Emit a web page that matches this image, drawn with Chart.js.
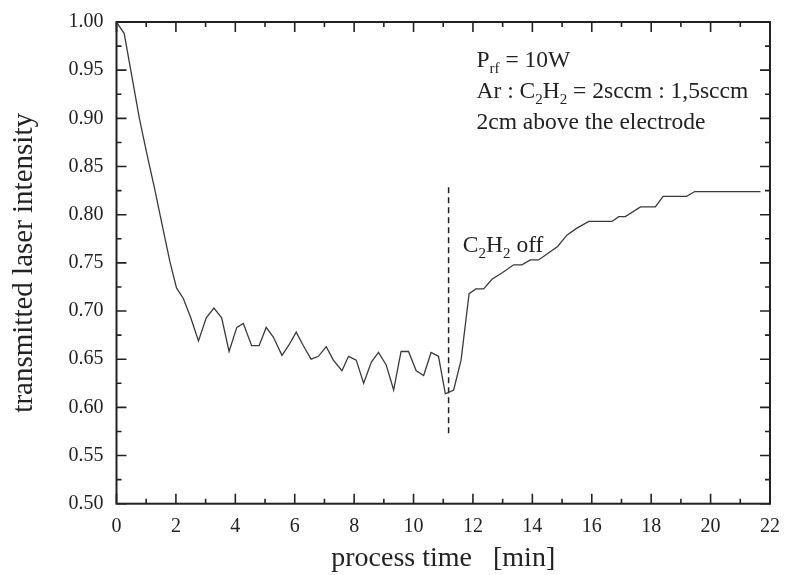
<!DOCTYPE html>
<html>
<head>
<meta charset="utf-8">
<script src="https://cdn.jsdelivr.net/npm/chart.js@4.4.1/dist/chart.umd.min.js"></script>
<style>
  body { margin: 0; background: #fff; }
  #wrap { width: 786px; height: 575px; }
</style>
</head>
<body>
<div id="wrap"><canvas id="chart"></canvas></div>
<script>
// measured curve: process time [min] / transmitted laser intensity
const timeMin = [0, 0.26, 0.77, 1.03, 1.29, 1.54, 1.80, 2.02, 2.25, 2.50, 2.76, 3.02, 3.28, 3.54, 3.79,
  4.05, 4.27, 4.55, 4.80, 5.04, 5.28, 5.57, 5.79, 6.05, 6.29, 6.55, 6.80, 7.06, 7.30, 7.59, 7.81,
  8.07, 8.32, 8.58, 8.82, 9.08, 9.33, 9.58, 9.83, 10.09, 10.34, 10.59, 10.84, 11.07, 11.35, 11.60,
  11.87, 12.10, 12.36, 12.64, 13.00, 13.37, 13.65, 13.93, 14.21, 14.53, 14.85, 15.17, 15.50, 15.90,
  16.68, 16.91, 17.13, 17.64, 18.14, 18.40, 19.19, 19.47, 21.68];
const intensity = [1.000, 0.988, 0.900, 0.862, 0.826, 0.789, 0.751, 0.724, 0.713, 0.693, 0.669, 0.693, 0.703, 0.693, 0.658,
  0.683, 0.687, 0.664, 0.664, 0.683, 0.673, 0.654, 0.664, 0.678, 0.664, 0.650, 0.653, 0.663, 0.649, 0.638, 0.653,
  0.649, 0.625, 0.647, 0.657, 0.644, 0.618, 0.658, 0.658, 0.638, 0.633, 0.657, 0.653, 0.614, 0.618, 0.649,
  0.718, 0.723, 0.723, 0.733, 0.740, 0.748, 0.748, 0.753, 0.753, 0.760, 0.767, 0.779, 0.786, 0.793,
  0.793, 0.798, 0.798, 0.808, 0.808, 0.819, 0.819, 0.824, 0.824];

// dashed marker where C2H2 is switched off
const offTime = 11.18;
const offLineY = [0.573, 0.830];

// axis ticks
const xTicks = [0, 2, 4, 6, 8, 10, 12, 14, 16, 18, 20, 22];
const yTicks = [0.50, 0.55, 0.60, 0.65, 0.70, 0.75, 0.80, 0.85, 0.90, 0.95, 1.00];

// annotation text, pieces marked sub are subscripts
const notes = [
  { x: 12.12, y: 0.953, parts: [['P'], ['rf', 1], [' = 10W']] },
  { x: 12.12, y: 0.921, parts: [['Ar : C'], ['2', 1], ['H'], ['2', 1], [' = 2sccm : 1,5sccm']] },
  { x: 12.12, y: 0.889, parts: [['2cm above the electrode']] },
  { x: 11.66, y: 0.761, parts: [['C'], ['2', 1], ['H'], ['2', 1], [' off']] }
];

const serif = '"Liberation Serif", "DejaVu Serif", serif';

// frame with inward ticks on all four sides
const framePlugin = {
  id: 'frame',
  afterDatasetsDraw(chart) {
    const { ctx, chartArea: a, scales } = chart;
    ctx.save();
    ctx.strokeStyle = '#222';
    ctx.lineWidth = 2;
    ctx.strokeRect(a.left, a.top, a.right - a.left, a.bottom - a.top);
    ctx.lineWidth = 1.6;
    ctx.beginPath();
    for (let v = 0; v <= 22; v += 1) {
      const px = scales.x.getPixelForValue(v);
      const len = v % 2 === 0 ? 10 : 5;
      ctx.moveTo(px, a.bottom); ctx.lineTo(px, a.bottom - len);
      ctx.moveTo(px, a.top); ctx.lineTo(px, a.top + len);
    }
    for (let i = 0; i <= 20; i++) {
      const v = 0.5 + i * 0.025;
      const py = scales.y.getPixelForValue(v);
      const len = i % 2 === 0 ? 10 : 5;
      ctx.moveTo(a.left, py); ctx.lineTo(a.left + len, py);
      ctx.moveTo(a.right, py); ctx.lineTo(a.right - len, py);
    }
    ctx.stroke();
    ctx.restore();
  }
};

// text with subscripts
const notesPlugin = {
  id: 'notes',
  afterDatasetsDraw(chart) {
    const { ctx, scales } = chart;
    ctx.save();
    ctx.fillStyle = '#222';
    ctx.textBaseline = 'alphabetic';
    notes.forEach(n => {
      let x = scales.x.getPixelForValue(n.x);
      const y = scales.y.getPixelForValue(n.y);
      n.parts.forEach(p => {
        const sub = p[1] === 1;
        ctx.font = (sub ? '15px ' : '23.5px ') + serif;
        ctx.fillText(p[0], x, sub ? y + 6 : y);
        x += ctx.measureText(p[0]).width;
      });
    });
    ctx.restore();
  }
};

new Chart(document.getElementById('chart'), {
  type: 'line',
  data: {
    datasets: [
      {
        data: timeMin.map((t, i) => ({ x: t, y: intensity[i] })),
        borderColor: '#3a3a3a',
        borderWidth: 1.3,
        pointRadius: 0,
        tension: 0
      },
      {
        data: offLineY.map(v => ({ x: offTime, y: v })),
        borderColor: '#222',
        borderWidth: 1.5,
        borderDash: [6, 4],
        pointRadius: 0
      }
    ]
  },
  options: {
    responsive: true,
    maintainAspectRatio: false,
    animation: false,
    layout: { padding: { left: 0, right: 16, top: 22, bottom: 0 } },
    plugins: { legend: { display: false }, tooltip: { enabled: false } },
    scales: {
      x: {
        type: 'linear',
        min: 0,
        max: 22,
        afterBuildTicks: s => { s.ticks = xTicks.map(v => ({ value: v })); },
        afterFit: s => { s.height = 71.3; },
        grid: { display: false },
        border: { display: false },
        ticks: {
          padding: 3,
          color: '#222',
          font: { family: serif, size: 20 },
          maxRotation: 0,
          callback: v => String(v)
        },
        title: {
          display: true,
          text: 'process time   [min]',
          color: '#222',
          font: { family: serif, size: 28 },
          padding: { top: 1, bottom: 0 }
        }
      },
      y: {
        min: 0.5,
        max: 1.0,
        afterBuildTicks: s => { s.ticks = yTicks.map(v => ({ value: v })); },
        afterFit: s => { s.width = 116.5; },
        grid: { display: false },
        border: { display: false },
        ticks: {
          padding: 5,
          color: '#222',
          font: { family: serif, size: 20 },
          callback: v => v.toFixed(2)
        },
        title: {
          display: true,
          text: 'transmitted laser intensity',
          color: '#222',
          font: { family: serif, size: 29 },
          padding: { top: 7, bottom: 0 }
        }
      }
    }
  },
  plugins: [framePlugin, notesPlugin]
});
</script>
</body>
</html>
